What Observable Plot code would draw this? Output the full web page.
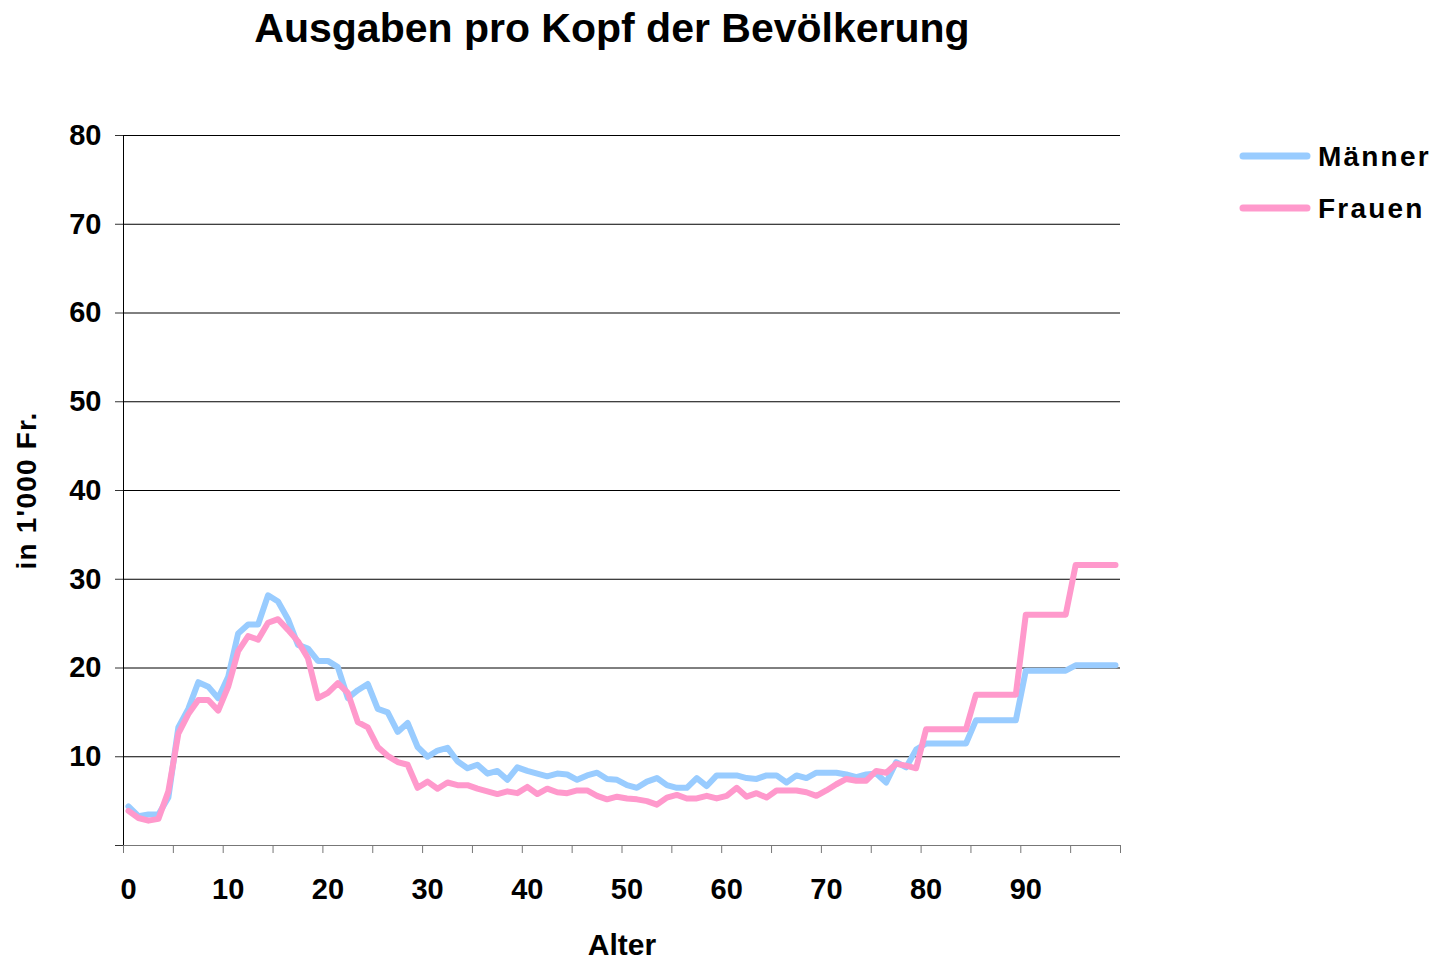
<!DOCTYPE html>
<html>
<head>
<meta charset="utf-8">
<script src="https://cdn.jsdelivr.net/npm/d3@7"></script>
<script src="https://cdn.jsdelivr.net/npm/@observablehq/plot@0.6"></script>
<style>
  html, body { margin: 0; padding: 0; background: #fff; }
  #wrap { position: relative; width: 1437px; height: 960px; font-family: "Liberation Sans", Arial, sans-serif; }
</style>
</head>
<body>
<div id="wrap"></div>
<script>
const title = "Ausgaben pro Kopf der Bevölkerung";
const xLabel = "Alter";
const yLabel = "in 1'000 Fr.";
const seriesNames = ["Männer", "Frauen"];
const seriesColors = ["#99CCFF", "#FF99CC"];

const ages = [0,1,2,3,4,5,6,7,8,9,10,11,12,13,14,15,16,17,18,19,
  20,21,22,23,24,25,26,27,28,29,30,31,32,33,34,35,36,37,38,39,
  40,41,42,43,44,45,46,47,48,49,50,51,52,53,54,55,56,57,58,59,
  60,61,62,63,64,65,66,67,68,69,70,71,72,73,74,75,76,77,78,79,
  80,81,82,83,84,85,86,87,88,89,90,91,92,93,94,95,96,97,98,99];

const maenner = [4.4,3.3,3.5,3.5,5.4,13.3,15.4,18.4,17.9,16.6,
  19.0,23.9,24.9,24.9,28.2,27.5,25.5,22.6,22.2,20.8,
  20.8,20.1,16.6,17.5,18.2,15.4,15.0,12.8,13.8,11.1,
  10.0,10.7,11.0,9.5,8.7,9.1,8.1,8.4,7.4,8.8,
  8.4,8.1,7.8,8.1,8.0,7.4,7.9,8.2,7.5,7.4,
  6.8,6.5,7.2,7.6,6.8,6.5,6.5,7.6,6.7,7.9,
  7.9,7.9,7.6,7.5,7.9,7.9,7.1,7.9,7.6,8.2,
  8.2,8.2,8.0,7.7,8.0,8.1,7.1,9.4,8.8,10.8,
  11.5,11.5,11.5,11.5,11.5,14.1,14.1,14.1,14.1,14.1,
  19.7,19.7,19.7,19.7,19.7,20.3,20.3,20.3,20.3,20.3];

const frauen = [3.9,3.1,2.8,3.0,6.1,12.6,14.8,16.4,16.4,15.2,
  17.9,21.9,23.6,23.2,25.1,25.5,24.3,23.0,21.1,16.6,
  17.2,18.3,17.2,13.9,13.3,11.1,10.1,9.4,9.1,6.5,
  7.2,6.4,7.1,6.8,6.8,6.4,6.1,5.8,6.1,5.9,
  6.6,5.8,6.4,6.0,5.9,6.2,6.2,5.6,5.2,5.5,
  5.3,5.2,5.0,4.6,5.4,5.7,5.3,5.3,5.6,5.3,
  5.6,6.5,5.5,5.9,5.4,6.2,6.2,6.2,6.0,5.6,
  6.2,6.9,7.5,7.3,7.3,8.4,8.2,9.2,9.0,8.7,
  13.1,13.1,13.1,13.1,13.1,17.0,17.0,17.0,17.0,17.0,
  26.0,26.0,26.0,26.0,26.0,31.6,31.6,31.6,31.6,31.6];

const xTickLabels = [0,10,20,30,40,50,60,70,80,90];
const xTickMarks = [-0.5,4.5,9.5,14.5,19.5,24.5,29.5,34.5,39.5,44.5,49.5,54.5,59.5,64.5,69.5,74.5,79.5,84.5,89.5,94.5,99.5];
const yTicks = [0,10,20,30,40,50,60,70,80];
const yGrid = [10,20,30,40,50,60,70,80];

const data = [];
ages.forEach((a, i) => data.push({age: a, value: maenner[i], series: seriesNames[0]}));
ages.forEach((a, i) => data.push({age: a, value: frauen[i], series: seriesNames[1]}));

const font = "'Liberation Sans', Arial, sans-serif";
const tickFont = 29;

const chart = Plot.plot({
  width: 1437,
  height: 960,
  marginLeft: 123,
  marginRight: 317,
  marginTop: 135,
  marginBottom: 115,
  style: {fontFamily: font, background: "#fff", overflow: "visible"},
  x: {domain: [-0.5, 99.5]},
  y: {domain: [0, 80]},
  color: {domain: seriesNames, range: seriesColors},
  marks: [
    Plot.gridY(yGrid, {stroke: "#000", strokeOpacity: 1, strokeWidth: 1}),
    Plot.frame({anchor: "left", stroke: "#000"}),
    Plot.frame({anchor: "bottom", stroke: "#777"}),
    Plot.axisY({ticks: yTicks, tickSize: 8, tickPadding: 14, stroke: "#333",
      tickFormat: d => d === 0 ? "" : d, fontSize: tickFont, fontWeight: "bold", fill: "#000", label: null}),
    Plot.axisX({ticks: xTickMarks, tickSize: 8, stroke: "#777", tickFormat: () => "", label: null}),
    Plot.axisX({ticks: xTickLabels, tickSize: 0, tickPadding: 33, fontSize: tickFont, fontWeight: "bold", fill: "#000", label: null}),
    Plot.line(data, {x: "age", y: "value", z: "series", stroke: "series", strokeWidth: 6,
      strokeLinejoin: "round", strokeLinecap: "round"}),
    Plot.text([title], {frameAnchor: "top", lineAnchor: "middle", textAnchor: "middle", dx: -10, dy: -107,
      fontSize: 41, fontWeight: "bold", fill: "#000"}),
    Plot.text([xLabel], {frameAnchor: "bottom", lineAnchor: "middle", textAnchor: "middle", dy: 100,
      fontSize: 30, fontWeight: "bold", fill: "#000"}),
    Plot.text([yLabel], {frameAnchor: "left", lineAnchor: "middle", textAnchor: "middle", dx: -96, rotate: -90,
      fontSize: 28, fontWeight: "bold", fill: "#000", letterSpacing: 1})
  ]
});

const wrap = document.getElementById("wrap");
wrap.appendChild(chart);
// letter spacing for the rotated y label
chart.querySelectorAll("text").forEach(t => {
  if (t.textContent === yLabel) t.setAttribute("letter-spacing", "1.2");
});

// Legend
const ns = "http://www.w3.org/2000/svg";
const leg = document.createElementNS(ns, "svg");
leg.setAttribute("width", 1437);
leg.setAttribute("height", 260);
leg.style.position = "absolute";
leg.style.left = "0px";
leg.style.top = "0px";
seriesNames.forEach((name, i) => {
  const y = 156 + i * 52;
  const l = document.createElementNS(ns, "line");
  l.setAttribute("x1", 1243); l.setAttribute("x2", 1307);
  l.setAttribute("y1", y); l.setAttribute("y2", y);
  l.setAttribute("stroke", seriesColors[i]);
  l.setAttribute("stroke-width", 7);
  l.setAttribute("stroke-linecap", "round");
  leg.appendChild(l);
  const t = document.createElementNS(ns, "text");
  t.setAttribute("x", 1318);
  t.setAttribute("y", y);
  t.setAttribute("dy", "0.36em");
  t.setAttribute("font-family", font);
  t.setAttribute("font-size", 28);
  t.setAttribute("font-weight", "bold");
  t.setAttribute("letter-spacing", "2.2");
  t.textContent = name;
  leg.appendChild(t);
});
wrap.appendChild(leg);
</script>
</body>
</html>
